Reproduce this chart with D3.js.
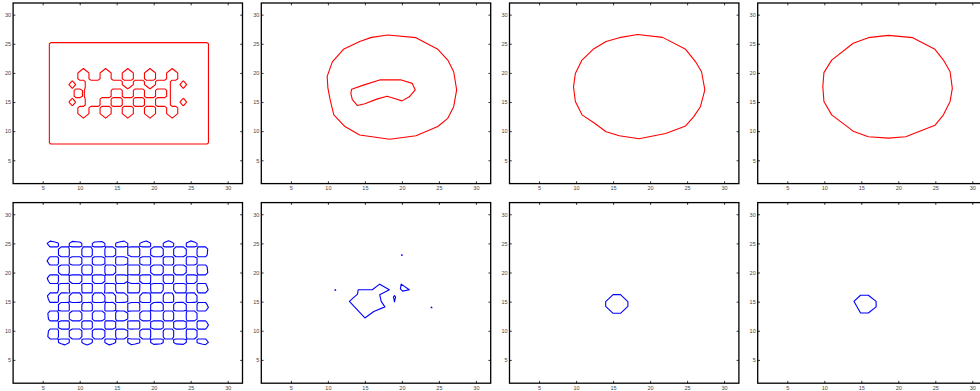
<!DOCTYPE html>
<html>
<head>
<meta charset="utf-8">
<script src="https://cdn.jsdelivr.net/npm/d3@7"></script>
<style>
  html, body { margin: 0; padding: 0; background: #fff; }
  svg { display: block; }
</style>
</head>
<body>
<div id="chart"></div>
<script>
// axis values (same for every panel)
const axisDomain = [1, 32];
const tickValues = [5, 10, 15, 20, 25, 30];

// panel 1: outer box contour + inner level map (0.5 step, x from 8, y from 21 down, level 4.5)
const frame1 = [[6.1,25.2],[27.2,25.2],[27.4,25.0],[27.4,8.0],[27.2,7.8],[6.1,7.8],[5.9,8.0],[5.9,25.0]];
const grid1 = [
  "00000000000000000000000000000000000",
  "00000900000900000900000900000900000",
  "00009990009990009990009990009990000",
  "00009990009990009990009990009990000",
  "00009990009990009990009990009990000",
  "00600099999999990009990009999000600",
  "04940099999999990009990009999004940",
  "00600099999999999099999099999000600",
  "00099399999990009990009990009000000",
  "00099399999990009990009990009000000",
  "00099399999990009990009990009000000",
  "00600099990009990009990009999000600",
  "04940099990009990009990009999004940",
  "00600099990009990009990009999000600",
  "00009990009990009990009990009990000",
  "00009990009990009990009990009990000",
  "00009990009990009990009990009990000",
  "00000900000900000900000900000900000",
  "00000000000000000000000000000000000"
];

// panel 2: outer and inner curve
const outer2 = [[15.9,26.1],[18.1,26.5],[21.9,26.05],[24.85,24.05],[26.2,22.2],[27.0,20.2],[27.4,17.1],[27.0,14.2],[26.2,12.2],[24.85,10.8],[21.9,9.2],[18.35,8.6],[14.3,9.35],[12.3,10.8],[10.8,12.8],[10.3,15.4],[10.0,17.4],[9.9,19.4],[10.6,21.9],[12.1,24.05],[14.3,25.4]];
const inner2 = [[13.2,17.2],[14.8,17.9],[17.0,18.8],[19.9,18.8],[21.4,18.2],[21.8,17.1],[21.0,15.9],[20.0,15.2],[19.0,15.6],[18.0,16.0],[16.6,15.5],[15.0,14.7],[14.0,14.4],[13.3,15.4],[13.1,16.5]];

// panel 3 and 4: single curve
const outer3 = [[15.84,26.05],[18.3,26.6],[21.7,26.1],[24.8,24.05],[26.15,21.9],[26.95,20.2],[27.4,17.1],[26.8,14.2],[25.9,12.5],[24.8,10.9],[22.1,9.6],[18.5,8.7],[15.84,9.2],[14.05,9.9],[12.5,11.35],[10.8,12.8],[9.9,15.1],[9.65,17.6],[9.9,19.9],[10.8,22.2],[12.3,24.05],[14.05,25.4]];
const outer4 = [[15.95,26.05],[18.65,26.45],[21.95,26.05],[24.95,24.05],[26.1,22.2],[27.0,20.2],[27.3,17.35],[27.0,15.1],[26.1,12.8],[24.95,11.0],[21.0,9.05],[18.65,8.8],[15.95,9.05],[13.9,10.0],[11.0,12.8],[9.95,15.1],[9.8,17.65],[9.95,20.05],[11.0,22.2],[13.9,25.1]];

// panel 5: initial level set values (1.0 step, x 5..28, y 26..7, zero level drawn)
const grid5 = [
  [-25,-25,-25,-25,-25,-25,-25,-25,-25,-25,-25,-25,-25,-25,-25,-25,-25,-25,-25,-25,-25,-25,-25,-25],
  [-25,16.2,2.7,-18.5,12.7,7.9,-19.3,8.1,12.5,-18.5,2.9,16.1,-16.3,-2.5,18.4,-12.8,-7.8,19.3,-8.3,-12.4,18.6,-3.1,-16.0,-25],
  [-25,-10.8,-1.8,12.3,-8.5,-5.3,12.9,-5.4,-8.4,12.4,-1.9,-10.8,10.9,1.7,-12.3,8.5,5.2,-12.9,5.5,8.3,-12.4,2.0,10.7,-25],
  [-25,-7.2,-1.2,8.2,-5.6,-3.5,8.5,-3.6,-5.5,8.2,-1.3,-7.2,7.2,1.1,-8.2,5.7,3.5,-8.5,3.7,5.5,-8.2,1.4,7.1,-25],
  [-25,16.8,2.8,-19.2,13.1,8.2,-20.0,8.4,13.0,-19.2,3.0,16.7,-16.9,-2.6,19.1,-13.3,-8.1,20.0,-8.6,-12.9,19.3,-3.2,-16.6,-25],
  [-25,-6.9,-1.2,7.9,-5.4,-3.4,8.2,-3.5,-5.3,7.9,-1.2,-6.9,7.0,1.1,-7.9,5.5,3.3,-8.2,3.5,5.3,-7.9,1.3,6.8,-25],
  [-25,-11.1,-1.9,12.7,-8.7,-5.4,13.2,-5.5,-8.6,12.7,-2.0,-11.1,11.2,1.7,-12.6,8.8,5.3,-13.2,5.7,8.5,-12.7,2.1,11.0,-25],
  [-25,16.1,2.7,-18.3,12.6,7.9,-19.1,8.0,12.4,-18.4,2.9,16.0,-16.2,-2.5,18.3,-12.7,-7.7,19.1,-8.2,-12.3,18.4,-3.0,-15.9,-25],
  [-25,-2.2,-0.4,2.6,-1.7,-1.1,2.7,-1.1,-1.7,2.6,-0.4,-2.2,2.3,0.4,-2.5,1.8,1.1,-2.7,1.1,1.7,-2.6,0.4,2.2,-25],
  [-25,-14.2,-2.4,16.2,-11.1,-7.0,16.9,-7.1,-11.0,16.3,-2.5,-14.2,14.3,2.2,-16.2,11.2,6.8,-16.9,7.2,10.9,-16.3,2.7,14.1,-25],
  [-25,14.1,2.4,-16.0,11.0,6.9,-16.7,7.0,10.9,-16.1,2.5,14.0,-14.1,-2.2,16.0,-11.1,-6.8,16.7,-7.2,-10.8,16.1,-2.7,-13.9,-25],
  [-25,2.5,0.4,-2.9,2.0,1.2,-3.0,1.3,2.0,-2.9,0.5,2.5,-2.6,-0.4,2.9,-2.0,-1.2,3.0,-1.3,-1.9,2.9,-0.5,-2.5,-25],
  [-25,-16.2,-2.7,18.4,-12.6,-7.9,19.2,-8.1,-12.5,18.5,-2.9,-16.1,16.3,2.5,-18.4,12.8,7.8,-19.2,8.2,12.4,-18.5,3.1,16.0,-25],
  [-25,10.9,1.8,-12.5,8.5,5.4,-13.0,5.5,8.5,-12.5,2.0,10.9,-11.0,-1.7,12.4,-8.6,-5.3,13.0,-5.6,-8.4,12.5,-2.1,-10.8,-25],
  [-25,7.1,1.2,-8.1,5.5,3.5,-8.4,3.5,5.5,-8.1,1.3,7.0,-7.1,-1.1,8.0,-5.6,-3.4,8.4,-3.6,-5.4,8.1,-1.3,-7.0,-25],
  [-25,-16.8,-2.8,19.2,-13.1,-8.2,20.0,-8.4,-13.0,19.2,-3.0,-16.7,16.9,2.6,-19.1,13.3,8.1,-20.0,8.6,12.9,-19.3,3.2,16.6,-25],
  [-25,6.9,1.2,-7.8,5.4,3.4,-8.2,3.4,5.3,-7.8,1.2,6.8,-6.9,-1.1,7.8,-5.4,-3.3,8.2,-3.5,-5.3,7.9,-1.3,-6.8,-25],
  [-25,11.1,1.9,-12.7,8.7,5.5,-13.2,5.6,8.6,-12.7,2.0,11.1,-11.2,-1.7,12.7,-8.8,-5.3,13.2,-5.7,-8.5,12.8,-2.1,-11.0,-25],
  [-25,-16.1,-2.7,18.3,-12.6,-7.9,19.1,-8.0,-12.4,18.4,-2.9,-16.0,16.2,2.5,-18.3,12.7,7.7,-19.1,8.2,12.3,-18.4,3.0,15.9,-25],
  [-25,-25,-25,-25,-25,-25,-25,-25,-25,-25,-25,-25,-25,-25,-25,-25,-25,-25,-25,-25,-25,-25,-25,-25]
];

// panel 6: pieces of contour
const main6 = [[12.9,15.05],[14.0,16.3],[14.1,17.05],[16.0,17.05],[17.0,18.0],[18.3,17.05],[17.0,16.2],[17.2,15.05],[17.7,14.1],[16.2,13.3],[15.0,12.2]];
const tri6 = [[19.9,18.0],[21.0,17.05],[20.1,16.8],[19.8,17.2]];
const drop6 = [[18.85,15.8],[19.0,16.05],[19.15,15.8],[19.05,15.3],[19.0,14.95],[18.95,15.3]];
const dots6 = [[20, 23], [24, 14], [11, 17]];

// panel 7 and 8
const loop7 = [[15,16.2],[16,16.2],[17,15],[17,14.2],[16,13],[15,13],[14,14.2],[14,15]];
const loop8 = [[14.9,16.1],[15.95,16.1],[17.0,15.05],[17.0,14.1],[15.95,13.05],[14.9,13.05],[14.0,15.05]];

const width = 980, height = 391;
const colLeft = [13.1, 261.3, 509.5, 757.7];
const rowTop = [3.0, 202.6];
const pw = 229.4, ph = 180.6;

const svg = d3.select("#chart").append("svg")
  .attr("width", width)
  .attr("height", height)
  .attr("font-family", "'Liberation Sans', Arial, sans-serif");

const dotLoop = ([cx, cy]) => [[cx - 0.06, cy - 0.04], [cx + 0.06, cy - 0.04], [cx, cy + 0.07]];

// split each grid cell in four so saddle cells follow the cell mean (like the original plot)
function refine(rows) {
  const ny = rows.length, nx = rows[0].length, out = [];
  for (let j = 0; j < 2 * ny - 1; j++) {
    const r = [];
    for (let i = 0; i < 2 * nx - 1; i++) {
      const j0 = Math.floor(j / 2), j1 = Math.ceil(j / 2);
      const i0 = Math.floor(i / 2), i1 = Math.ceil(i / 2);
      r.push((rows[j0][i0] + rows[j0][i1] + rows[j1][i0] + rows[j1][i1]) / 4);
    }
    out.push(r);
  }
  return out;
}

const gridSpecs = {
  p1: { rows: grid1.map(r => Array.from(r, c => +c)), x0: 8, yTop: 21, step: 0.5, level: 4.5, refine: false },
  p5: { rows: grid5, x0: 5, yTop: 26, step: 1, level: 0, refine: true }
};

const panels = [
  { col: 0, row: 0, color: "#ff0000", lines: [frame1], grid: gridSpecs.p1 },
  { col: 1, row: 0, color: "#ff0000", lines: [outer2, inner2] },
  { col: 2, row: 0, color: "#ff0000", lines: [outer3] },
  { col: 3, row: 0, color: "#ff0000", lines: [outer4] },
  { col: 0, row: 1, color: "#0000ff", lines: [], grid: gridSpecs.p5 },
  { col: 1, row: 1, color: "#0000ff", lines: [main6, tri6, drop6].concat(dots6.map(dotLoop)) },
  { col: 2, row: 1, color: "#0000ff", lines: [loop7] },
  { col: 3, row: 1, color: "#0000ff", lines: [loop8] }
];

panels.forEach(p => {
  const g = svg.append("g")
    .attr("transform", `translate(${colLeft[p.col]},${rowTop[p.row]})`);

  const x = d3.scaleLinear().domain(axisDomain).range([0, pw]);
  const y = d3.scaleLinear().domain(axisDomain).range([ph, 0]);

  const line = d3.line()
    .x(d => x(d[0]))
    .y(d => y(d[1]))
    .curve(d3.curveLinearClosed);

  g.append("rect")
    .attr("width", pw)
    .attr("height", ph)
    .attr("fill", "#fff");

  g.selectAll("path.curve")
    .data(p.lines)
    .join("path")
    .attr("class", "curve")
    .attr("d", line)
    .attr("fill", "none")
    .attr("stroke", p.color)
    .attr("stroke-width", 1.1)
    .attr("stroke-linejoin", "round");

  if (p.grid) {
    const spec = p.grid;
    const rows = spec.refine ? refine(spec.rows) : spec.rows;
    const k = spec.refine ? spec.step / 2 : spec.step;
    const nx = rows[0].length, ny = rows.length;
    const shape = d3.contours().size([nx, ny]).thresholds([spec.level])(rows.flat())[0];
    const proj = d3.geoTransform({
      point(gx, gy) { this.stream.point(x(spec.x0 + (gx - 0.5) * k), y(spec.yTop - (gy - 0.5) * k)); }
    });
    g.append("path")
      .attr("d", d3.geoPath(proj)(shape))
      .attr("fill", "none")
      .attr("stroke", p.color)
      .attr("stroke-width", 1.1)
      .attr("stroke-linejoin", "round");
  }

  // axes, ticks pointing inward on all four sides
  const tl = 2.3;
  const styleAxis = a => {
    a.select(".domain").remove();
    a.selectAll(".tick line").attr("stroke", "#000").attr("stroke-width", 0.8);
    a.selectAll(".tick text").attr("fill", "#444").attr("font-size", 5.5);
  };
  g.append("g").attr("transform", `translate(0,${ph})`)
    .call(d3.axisBottom(x).tickValues(tickValues).tickSize(-tl).tickPadding(2.6))
    .call(styleAxis);
  g.append("g")
    .call(d3.axisTop(x).tickValues(tickValues).tickSize(-tl).tickFormat(""))
    .call(styleAxis);
  g.append("g")
    .call(d3.axisLeft(y).tickValues(tickValues).tickSize(-tl).tickPadding(2))
    .call(styleAxis);
  g.append("g").attr("transform", `translate(${pw},0)`)
    .call(d3.axisRight(y).tickValues(tickValues).tickSize(-tl).tickFormat(""))
    .call(styleAxis);

  g.append("rect")
    .attr("width", pw)
    .attr("height", ph)
    .attr("fill", "none")
    .attr("stroke", "#000")
    .attr("stroke-width", 1.3);
});
</script>
</body>
</html>
